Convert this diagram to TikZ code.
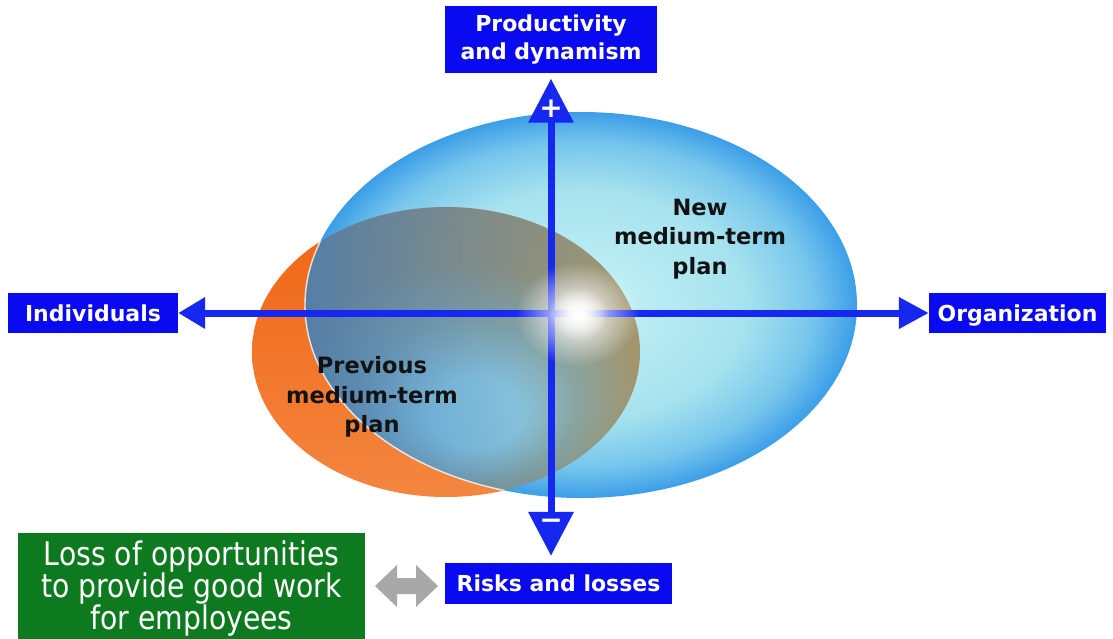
\documentclass[tikz,border=0pt]{standalone}
\usepackage{fontspec}
\setmainfont{DejaVu Sans}
\newfontfamily\condfont{DejaVu Sans}[FakeStretch=0.87]
\usetikzlibrary{arrows.meta,fadings}
\definecolor{boxblue}{RGB}{10,10,240}
\definecolor{axisblue}{RGB}{22,40,240}
\definecolor{lossgreen}{RGB}{14,122,32}
\definecolor{arrowgray}{RGB}{168,168,168}
\definecolor{orangeA}{RGB}{240,100,18}
\definecolor{orangeB}{RGB}{244,134,64}
\definecolor{cyanA}{RGB}{198,243,247}
\definecolor{cyanB}{RGB}{166,226,238}
\definecolor{cyanC}{RGB}{118,198,236}
\definecolor{blueEdge}{RGB}{60,158,232}
\definecolor{lensIn}{RGB}{160,216,224}
\definecolor{lensMid}{RGB}{150,166,146}
\definecolor{lensOut}{RGB}{162,142,96}
\definecolor{lensBlue}{RGB}{50,118,198}
\definecolor{inktext}{RGB}{18,18,18}
\pgfdeclareradialshading{newplan}{\pgfpointorigin}{color(0bp)=(cyanA); color(15bp)=(cyanB); color(21bp)=(cyanC); color(25bp)=(blueEdge); color(50bp)=(blueEdge)}
\pgfdeclareradialshading{lens}{\pgfpoint{4bp}{-12bp}}{color(0bp)=(lensIn); color(6bp)=(lensIn); color(14bp)=(lensMid); color(22bp)=(lensOut); color(50bp)=(lensOut)}
\tikzfading[name=glowfade, inner color=transparent!0, outer color=transparent!100]
\tikzfading[name=leftfade, left color=transparent!25, right color=transparent!100]
\tikzset{
  bluebox/.style={fill=boxblue, text=white, font=\bfseries\fontsize{22}{28}\selectfont, align=center, inner sep=0pt},
  oneline/.style={text height=18pt, text depth=2pt},
  greenbox/.style={fill=lossgreen, text=white, font=\condfont\fontsize{32.5}{32}\selectfont, align=center, inner sep=0pt},
  plantext/.style={text=inktext, font=\bfseries\fontsize{22.5}{29.5}\selectfont, align=center, inner sep=0pt},
  axisline/.style={draw=axisblue, line width=7pt},
  signtext/.style={text=white, font=\bfseries\fontsize{28}{28}\selectfont, inner sep=0pt}
}
\begin{document}
\begin{tikzpicture}[x=1pt,y=-1pt]
\useasboundingbox (0,0) rectangle (1113,639);
\fill[white] (0,0) rectangle (1113,639);
% previous medium-term plan (orange crescent)
\shade[top color=orangeA, bottom color=orangeB] (446,352) ellipse [x radius=194, y radius=145];
% new medium-term plan
\shade[shading=newplan] (581,305) ellipse [x radius=276, y radius=193];
% overlap of the two plans
\begin{scope}
  \clip (581,305) ellipse [x radius=276, y radius=193];
  \shade[shading=lens, opacity=0.9] (446,352) ellipse [x radius=194, y radius=145];
  \fill[lensBlue, path fading=leftfade] (446,352) ellipse [x radius=194, y radius=145];
\end{scope}
\begin{scope}
  \clip (446,352) ellipse [x radius=194, y radius=145];
  \draw[white, line width=1.4pt, opacity=0.8] (581,305) ellipse [x radius=276, y radius=193];
\end{scope}
% boxes
\node[bluebox, minimum width=212pt, minimum height=67pt] (prod) at (551,40) {Productivity\\and dynamism};
\node[bluebox, oneline, minimum width=170pt, minimum height=40pt] (ind) at (93,313) {Individuals};
\node[bluebox, oneline, minimum width=177pt, minimum height=40pt] (org) at (1017.5,313) {Organization};
\node[bluebox, oneline, minimum width=227pt, minimum height=41pt] (risk) at (558.5,583.5) {Risks and losses};
\node[greenbox, minimum width=347pt, minimum height=112pt] (loss) at (191.5,589) {Loss of opportunities\\to provide good work\\for employees};
% grey two-way arrow between the boxes
\fill[arrowgray] (375,586) -- (397,565) -- (397,578) -- (416,578) -- (416,565) -- (438,586)
  -- (416,607) -- (416,594) -- (397,594) -- (397,607) -- cycle;
% axes
\coordinate (o) at (551,313);
\coordinate (rtop) at (prod.south |- risk.north);
\draw[axisline, -{Triangle[length=27pt,width=30pt]}] (o) -- (ind.east);
\draw[axisline, -{Triangle[length=30pt,width=30pt]}] (o) -- (org.west);
\draw[axisline, {Triangle[length=44pt,width=44pt]}-{Triangle[length=44pt,width=44pt]}] ([yshift=-5pt]prod.south) -- ([yshift=7pt]rtop);
\node[signtext] (plus) at (551,109) {+};
\node[signtext] (minus) at (551,524) {−};
% glow
\fill[white, path fading=glowfade] (578,314) ellipse [x radius=62, y radius=52];
\fill[white, path fading=glowfade] (578,314) ellipse [x radius=30, y radius=26];
% plan labels
\node[plantext] (newp) at (700,239) {New\\medium-term\\plan};
\node[plantext] (prevp) at (372,397) {Previous\\medium-term\\plan};
\end{tikzpicture}
\end{document}
